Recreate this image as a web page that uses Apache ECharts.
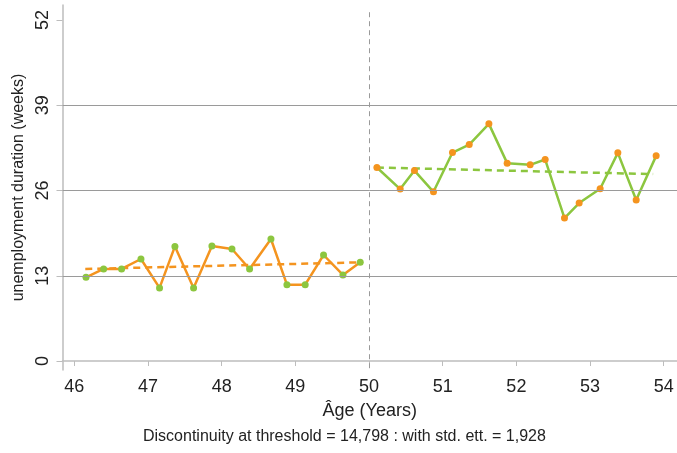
<!DOCTYPE html>
<html>
<head>
<meta charset="utf-8">
<script src="https://cdn.jsdelivr.net/npm/echarts@6/dist/echarts.min.js"></script>
<style>html,body{margin:0;padding:0;background:#fff}#c{width:677px;height:453px}</style>
</head>
<body>
<div id="c"></div>
<script>
// Left of threshold (bin means)
var leftX = [46.159, 46.398, 46.642, 46.905, 47.157, 47.366, 47.619, 47.868, 48.140, 48.379, 48.669, 48.886, 49.134, 49.383, 49.646, 49.881];
var leftY = [12.76, 14.04, 14.04, 15.56, 11.15, 17.48, 11.15, 17.54, 17.09, 14.04, 18.61, 11.65, 11.65, 16.17, 13.13, 15.05];
// Right of threshold
var rightX = [50.107, 50.423, 50.617, 50.875, 51.133, 51.360, 51.627, 51.875, 52.187, 52.391, 52.653, 52.852, 53.137, 53.377, 53.626, 53.897];
var rightY = [29.51, 26.22, 29.05, 25.81, 31.80, 33.01, 36.17, 30.18, 29.92, 30.73, 21.81, 24.09, 26.27, 31.75, 24.55, 31.29];
// Linear fits
var leftFitX = [46.149, 49.881];
var leftFitY = [14.04, 15.05];
var rightFitX = [50.107, 53.856];
var rightFitY = [29.51, 28.51];
// Ticks
var xTicks = [46, 47, 48, 49, 50, 51, 52, 53, 54];
var yTicks = [0, 13, 26, 39, 52];
var gridValues = [13, 26, 39];
var threshold = 50;
var noteText = 'Discontinuity at threshold = 14,798 : with std. ett. = 1,928';

var ORANGE = '#F4941F';
var GREEN = '#8CC63F';
function zip(a, b) { return a.map(function (v, i) { return [v, b[i]]; }); }

var chart = echarts.init(document.getElementById('c'), null, { renderer: 'canvas' });
var font = 'Liberation Sans, Arial, sans-serif';
chart.setOption({
  animation: false,
  textStyle: { fontFamily: font },
  grid: { left: 62.5, right: 0, top: 5, bottom: 83, containLabel: false },
  xAxis: {
    type: 'value', min: 45.84, max: 54.18,
    name: 'Âge (Years)', nameLocation: 'middle', nameGap: 32,
    nameTextStyle: { fontSize: 18, color: '#222', fontFamily: font },
    axisLine: { show: true, lineStyle: { color: '#bdbdbd', width: 1.5 } },
    axisTick: { show: true, length: 5, lineStyle: { color: '#bdbdbd' }, customValues: xTicks },
    axisLabel: { fontSize: 18, color: '#222', margin: 8, customValues: xTicks, fontFamily: font },
    splitLine: { show: false }
  },
  yAxis: {
    type: 'value', min: -1.37, max: 54.3,
    name: 'unemployment duration (weeks)', nameLocation: 'middle', nameGap: 36,
    nameTextStyle: { fontSize: 16, color: '#222', fontFamily: font },
    axisLine: { show: true, lineStyle: { color: '#bdbdbd', width: 1.5 } },
    axisTick: { show: true, length: 6, lineStyle: { color: '#bdbdbd' }, customValues: yTicks },
    axisLabel: { fontSize: 18, color: '#222', margin: 10, rotate: 90, customValues: yTicks, fontFamily: font },
    splitLine: { show: false }
  },
  graphic: [{
    type: 'text', left: 345 - 202, top: 429,
    style: { text: noteText, font: '16px ' + font, fill: '#222' }
  }],
  series: [
    {
      type: 'line', data: zip(leftFitX, leftFitY), showSymbol: false, symbol: 'none', z: 2,
      lineStyle: { color: ORANGE, width: 2.5, type: [7, 5] },
      markLine: {
        silent: true, symbol: 'none', label: { show: false }, animation: false,
        data: gridValues.map(function (v) { return { yAxis: v, lineStyle: { color: '#9a9a9a', width: 1, type: 'solid' } }; })
          .concat([[{ coord: [threshold, 53.2], lineStyle: { color: '#9a9a9a', width: 1, type: [5, 4] } }, { coord: [threshold, -1.37] }]])
      }
    },
    {
      type: 'line', data: zip(rightFitX, rightFitY), showSymbol: false, symbol: 'none', z: 2,
      lineStyle: { color: GREEN, width: 2.5, type: [7, 5] }
    },
    {
      type: 'line', data: zip(leftX, leftY), symbol: 'circle', symbolSize: 7, z: 3,
      lineStyle: { color: ORANGE, width: 2.5 },
      itemStyle: { color: GREEN, borderWidth: 0 }
    },
    {
      type: 'line', data: zip(rightX, rightY), symbol: 'circle', symbolSize: 7, z: 3,
      lineStyle: { color: GREEN, width: 2.5 },
      itemStyle: { color: ORANGE, borderWidth: 0 }
    }
  ]
});
</script>
</body>
</html>
